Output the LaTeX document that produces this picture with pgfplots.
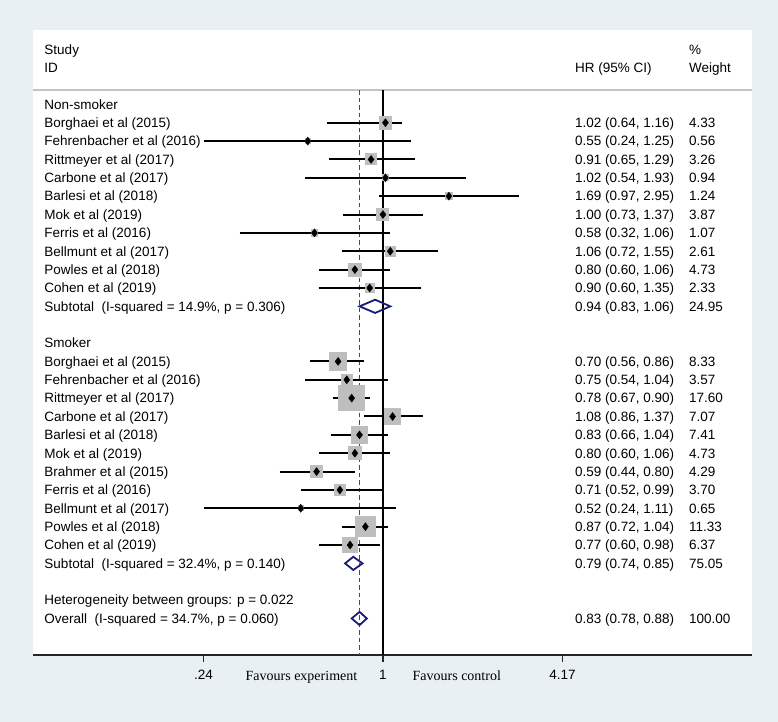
\documentclass[border=0pt]{standalone}
\usepackage{pgfplots}
\pgfplotsset{compat=1.18}
\usepackage{pgfplotstable}
\usepackage{fontspec}
\setmainfont{Liberation Sans}
\newfontfamily\seriffont{Liberation Serif}
\definecolor{bgblue}{RGB}{232,240,243}
\definecolor{boxgray}{RGB}{190,190,190}
\definecolor{dnavy}{RGB}{26,26,120}
\definecolor{maroonl}{RGB}{175,30,40}
\definecolor{hdrgray}{RGB}{195,195,195}

% row, HR, lower, upper, weight
\pgfplotstableread{
row hr lo hi w
2 1.02 0.64 1.16 4.33
3 0.55 0.24 1.25 0.56
4 0.91 0.65 1.29 3.26
5 1.02 0.54 1.93 0.94
6 1.69 0.97 2.95 1.24
7 1.00 0.73 1.37 3.87
8 0.58 0.32 1.06 1.07
9 1.06 0.72 1.55 2.61
10 0.80 0.60 1.06 4.73
11 0.90 0.60 1.35 2.33
15 0.70 0.56 0.86 8.33
16 0.75 0.54 1.04 3.57
17 0.78 0.67 0.90 17.60
18 1.08 0.86 1.37 7.07
19 0.83 0.66 1.04 7.41
20 0.80 0.60 1.06 4.73
21 0.59 0.44 0.80 4.29
22 0.71 0.52 0.99 3.70
23 0.52 0.24 1.11 0.65
24 0.87 0.72 1.04 11.33
25 0.77 0.60 0.98 6.37
}\studies

\newcommand{\lab}[2]{\node[txt] at ({rel axis cs:0.0157,0}|-{axis cs:1,#1}) {#2};}
\newcommand{\stat}[3]{\node[txt] at ({rel axis cs:0.7538,0}|-{axis cs:1,#1}) {#2};
  \node[txt] at ({rel axis cs:0.9124,0}|-{axis cs:1,#1}) {#3};}

\begin{document}
\begin{tikzpicture}[font=\fontsize{13.5bp}{16bp}\selectfont,
  txt/.style={anchor=west, inner sep=0pt, text height=12bp, text depth=2.4bp}]
\fill[bgblue] (-33bp,-67bp) rectangle (745bp,655bp);
\begin{axis}[
  scale only axis, width=719bp, height=625bp,
  xmode=log, xmin=0.0618, xmax=18.84,
  ymin=-3.05, ymax=30.99, y dir=reverse,
  axis x line*=bottom, axis y line=none,
  x axis line style={-, line width=1.4bp, black!85},
  xtick={0.24,1,4.17}, xticklabels={.24,1,4.17},
  minor xtick={}, xminorticks=false,
  tick align=outside, major tick length=7bp,
  xtick style={line width=1.4bp, black!85},
  ytick=\empty,
  axis background/.style={fill=white},
  clip=false,
  xticklabel style={font=\fontsize{13.5bp}{16bp}\selectfont, text height=9.7bp, text depth=0bp, yshift=-4.5bp},
]
% header line
\draw[hdrgray, line width=1.4bp] ({rel axis cs:0,0}|-{axis cs:1,0.22}) -- ({rel axis cs:1,0}|-{axis cs:1,0.22});
% reference lines
\addplot[black, line width=1.4bp] coordinates {(1,0.22) (1,30.99)};
\addplot[maroonl, line width=1.6bp, dash pattern=on 4.5bp off 3bp] coordinates {(0.83,0.22) (0.83,30.99)};

% boxes (area ~ weight)
\addplot[scatter, only marks, mark=square*,
  mark options={draw=boxgray, fill=boxgray, line width=0pt},
  scatter/use mapped color={draw=boxgray, fill=boxgray},
  visualization depends on={\thisrow{w} \as \wt},
  scatter/@pre marker code/.append style={/tikz/mark size=3.05*sqrt(\wt)}]
  table[x=hr, y=row]{\studies};

% confidence intervals
\addplot[black, line width=2bp, unbounded coords=jump, mark=none] coordinates {
(0.64,2) (1.16,2) (nan,nan)
(0.24,3) (1.25,3) (nan,nan)
(0.65,4) (1.29,4) (nan,nan)
(0.54,5) (1.93,5) (nan,nan)
(0.97,6) (2.95,6) (nan,nan)
(0.73,7) (1.37,7) (nan,nan)
(0.32,8) (1.06,8) (nan,nan)
(0.72,9) (1.55,9) (nan,nan)
(0.60,10) (1.06,10) (nan,nan)
(0.60,11) (1.35,11) (nan,nan)
(0.56,15) (0.86,15) (nan,nan)
(0.54,16) (1.04,16) (nan,nan)
(0.67,17) (0.90,17) (nan,nan)
(0.86,18) (1.37,18) (nan,nan)
(0.66,19) (1.04,19) (nan,nan)
(0.60,20) (1.06,20) (nan,nan)
(0.44,21) (0.80,21) (nan,nan)
(0.52,22) (0.99,22) (nan,nan)
(0.24,23) (1.11,23) (nan,nan)
(0.72,24) (1.04,24) (nan,nan)
(0.60,25) (0.98,25)
};

% point estimates
\addplot[only marks, mark=diamond*, mark size=4bp, mark options={black, fill=black}]
  table[x=hr, y=row]{\studies};

% pooled diamonds
\addplot[dnavy, line width=1.8bp] coordinates {(0.83,12) (0.94,11.64) (1.06,12) (0.94,12.36)} -- cycle;
\addplot[dnavy, line width=1.8bp] coordinates {(0.74,26) (0.79,25.64) (0.85,26) (0.79,26.36)} -- cycle;
\addplot[dnavy, line width=1.8bp] coordinates {(0.78,29) (0.83,28.64) (0.88,29) (0.83,29.36)} -- cycle;

% headers
\lab{-2}{Study}
\lab{-1}{ID}
\node[txt] at ({rel axis cs:0.7538,0}|-{axis cs:1,-1}) {HR (95\% CI)};
\node[txt] at ({rel axis cs:0.9124,0}|-{axis cs:1,-2}) {\%};
\node[txt] at ({rel axis cs:0.9124,0}|-{axis cs:1,-1}) {Weight};

% Non-smoker
\lab{1}{Non-smoker}
\lab{2}{Borghaei et al (2015)}      \stat{2}{1.02 (0.64, 1.16)}{4.33}
\lab{3}{Fehrenbacher et al (2016)}  \stat{3}{0.55 (0.24, 1.25)}{0.56}
\lab{4}{Rittmeyer et al (2017)}     \stat{4}{0.91 (0.65, 1.29)}{3.26}
\lab{5}{Carbone et al (2017)}       \stat{5}{1.02 (0.54, 1.93)}{0.94}
\lab{6}{Barlesi et al (2018)}       \stat{6}{1.69 (0.97, 2.95)}{1.24}
\lab{7}{Mok et al (2019)}           \stat{7}{1.00 (0.73, 1.37)}{3.87}
\lab{8}{Ferris et al (2016)}        \stat{8}{0.58 (0.32, 1.06)}{1.07}
\lab{9}{Bellmunt et al (2017)}      \stat{9}{1.06 (0.72, 1.55)}{2.61}
\lab{10}{Powles et al (2018)}       \stat{10}{0.80 (0.60, 1.06)}{4.73}
\lab{11}{Cohen et al (2019)}        \stat{11}{0.90 (0.60, 1.35)}{2.33}
\lab{12}{Subtotal\ \ (I-squared = 14.9\%, p = 0.306)} \stat{12}{0.94 (0.83, 1.06)}{24.95}

% Smoker
\lab{14}{Smoker}
\lab{15}{Borghaei et al (2015)}     \stat{15}{0.70 (0.56, 0.86)}{8.33}
\lab{16}{Fehrenbacher et al (2016)} \stat{16}{0.75 (0.54, 1.04)}{3.57}
\lab{17}{Rittmeyer et al (2017)}    \stat{17}{0.78 (0.67, 0.90)}{17.60}
\lab{18}{Carbone et al (2017)}      \stat{18}{1.08 (0.86, 1.37)}{7.07}
\lab{19}{Barlesi et al (2018)}      \stat{19}{0.83 (0.66, 1.04)}{7.41}
\lab{20}{Mok et al (2019)}          \stat{20}{0.80 (0.60, 1.06)}{4.73}
\lab{21}{Brahmer et al (2015)}      \stat{21}{0.59 (0.44, 0.80)}{4.29}
\lab{22}{Ferris et al (2016)}       \stat{22}{0.71 (0.52, 0.99)}{3.70}
\lab{23}{Bellmunt et al (2017)}     \stat{23}{0.52 (0.24, 1.11)}{0.65}
\lab{24}{Powles et al (2018)}       \stat{24}{0.87 (0.72, 1.04)}{11.33}
\lab{25}{Cohen et al (2019)}        \stat{25}{0.77 (0.60, 0.98)}{6.37}
\lab{26}{Subtotal\ \ (I-squared = 32.4\%, p = 0.140)} \stat{26}{0.79 (0.74, 0.85)}{75.05}

\lab{28}{Heterogeneity between groups: p = 0.022}
\lab{29}{Overall\ \ (I-squared = 34.7\%, p = 0.060)} \stat{29}{0.83 (0.78, 0.88)}{100.00}

% favours labels
\node[anchor=east, inner sep=0pt, text height=10bp, text depth=0.5bp, font=\seriffont\fontsize{14bp}{16bp}\selectfont, xshift=-25.5bp] at (axis cs:1,32.1) {Favours experiment};
\node[anchor=west, inner sep=0pt, text height=10bp, text depth=0.5bp, font=\seriffont\fontsize{14bp}{16bp}\selectfont, xshift=29.5bp] at (axis cs:1,32.1) {Favours control};
\end{axis}
\end{tikzpicture}
\end{document}
